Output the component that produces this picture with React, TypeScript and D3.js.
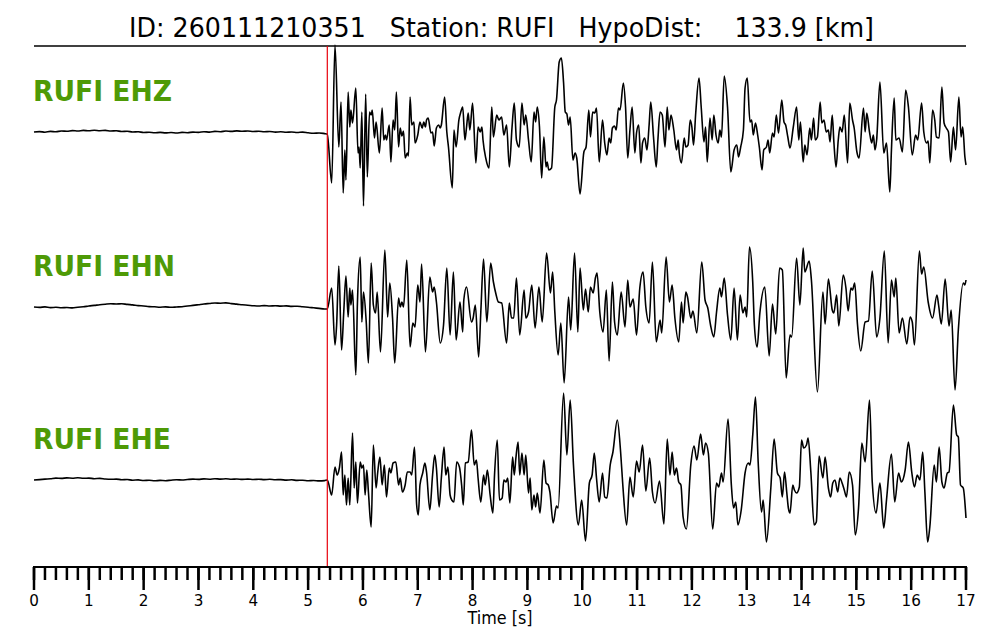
import React from 'react';
import * as d3 from 'd3';

// ---------------- data (time [s], amplitude [counts, arbitrary]) ----------------
const stationName = 'RUFI';
const eventId = '260111210351';
const hypoDistKm = '133.9';
const pickTime = 5.35;
const timeDomain: [number, number] = [0, 17];
const majorTickLabels = [0, 1, 2, 3, 4, 5, 6, 7, 8, 9, 10, 11, 12, 13, 14, 15, 16, 17];

const ehzPre: [number, number][] = [
  [0.0, 1.0], [0.1, 1.4], [0.2, 0.8], [0.3, 1.6], [0.4, 1.2], [0.5, 2.0], [0.6, 1.7], [0.7, 2.4], [0.8, 2.0], [0.9, 2.6],
  [1.0, 2.2], [1.1, 2.8], [1.2, 2.3], [1.3, 2.6], [1.4, 2.0], [1.5, 2.2], [1.6, 1.5], [1.7, 1.7], [1.8, 1.0], [1.9, 1.2],
  [2.0, 0.5], [2.1, 0.8], [2.2, 0.2], [2.3, 0.6], [2.4, 0.1], [2.5, 0.5], [2.6, 0.0], [2.7, 0.6], [2.8, 0.3], [2.9, 0.9],
  [3.0, 0.6], [3.1, 1.3], [3.2, 0.9], [3.3, 1.6], [3.4, 1.3], [3.5, 2.0], [3.6, 1.6], [3.7, 2.1], [3.8, 1.7], [3.9, 2.0],
  [4.0, 1.5], [4.1, 1.8], [4.2, 1.2], [4.3, 1.5], [4.4, 0.9], [4.5, 1.2], [4.6, 0.7], [4.7, 1.0], [4.8, 0.5], [4.9, 0.9],
  [5.0, 0.2], [5.1, -0.3], [5.2, 0.0], [5.3, -0.6],
];
const ehzPost: [number, number][] = [
  [5.35, -1], [5.43, -50], [5.49, 88], [5.56, -14], [5.60, 31], [5.64, -60], [5.67, -17], [5.69, -47], [5.73, 41], [5.76, 6],
  [5.78, 23], [5.81, 10], [5.87, 45], [5.91, -20], [5.93, -14], [5.95, -35], [5.98, 21], [6.01, -73], [6.05, 39], [6.08, -44],
  [6.12, 21], [6.15, 18], [6.17, 23], [6.21, -5], [6.24, 11], [6.30, -20], [6.35, 25], [6.38, -7], [6.41, -2], [6.43, -7],
  [6.48, 8], [6.51, -29], [6.55, 13], [6.58, 3], [6.61, 41], [6.65, -14], [6.68, 5], [6.71, -3], [6.74, 2], [6.77, -25],
  [6.81, -20], [6.83, -23], [6.86, 36], [6.89, 8], [6.93, 11], [6.95, -10], [7.00, -2], [7.04, 11], [7.08, 5], [7.11, 11],
  [7.14, 6], [7.16, 13], [7.19, 15], [7.24, 0], [7.27, 1], [7.30, -13], [7.34, 5], [7.38, 8], [7.41, 5], [7.43, 8],
  [7.49, 36], [7.53, 1], [7.56, -14], [7.63, -55], [7.66, 3], [7.70, -14], [7.75, 13], [7.78, 20], [7.82, 26], [7.86, -7],
  [7.89, 6], [7.92, 20], [7.95, 3], [8.00, 30], [8.06, -30], [8.10, 6], [8.14, 1], [8.17, 6], [8.19, -7], [8.24, -25],
  [8.30, -35], [8.35, 26], [8.38, -4], [8.44, 18], [8.48, 13], [8.53, 16], [8.57, -2], [8.62, 8], [8.67, -34], [8.72, 6],
  [8.76, 30], [8.80, -7], [8.85, -14], [8.90, 30], [8.94, 8], [8.97, 18], [9.02, -7], [9.07, -29], [9.12, 21], [9.15, 11],
  [9.18, 26], [9.22, 6], [9.26, -45], [9.30, -4], [9.34, -34], [9.36, -29], [9.39, -37], [9.44, -35], [9.50, 26], [9.53, 33],
  [9.58, 71], [9.62, 75], [9.66, 50], [9.69, 21], [9.72, 19], [9.75, 8], [9.78, 16], [9.83, -27], [9.87, -20], [9.90, -25],
  [9.96, -61], [10.03, -19], [10.07, -14], [10.12, 23], [10.15, -4], [10.19, 21], [10.23, 20], [10.26, 25], [10.31, -29], [10.37, 13],
  [10.41, -10], [10.45, -22], [10.49, -5], [10.52, -10], [10.55, 5], [10.59, 7], [10.62, 3], [10.66, 25], [10.69, 23], [10.75, 50],
  [10.79, 26], [10.83, -25], [10.87, 3], [10.91, 26], [10.96, -20], [10.99, 0], [11.03, 8], [11.07, -30], [11.10, -10], [11.14, -5],
  [11.18, -17], [11.22, 8], [11.25, 31], [11.30, -4], [11.35, -34], [11.38, -7], [11.42, 21], [11.46, 18], [11.51, -14], [11.55, 26],
  [11.58, 3], [11.62, 18], [11.67, 3], [11.72, -17], [11.75, -7], [11.77, -20], [11.81, -30], [11.86, -5], [11.89, -14], [11.93, -12],
  [11.97, 13], [12.00, 6], [12.03, -12], [12.07, 20], [12.13, 55], [12.17, 26], [12.22, -9], [12.25, 6], [12.28, -29], [12.33, 15],
  [12.37, -7], [12.40, 18], [12.44, -2], [12.48, -10], [12.51, 3], [12.54, -4], [12.59, 57], [12.65, 26], [12.71, -39], [12.77, -17],
  [12.82, -12], [12.85, -24], [12.89, -14], [12.94, 3], [12.97, 45], [13.01, 55], [13.06, 11], [13.09, 13], [13.12, -2], [13.16, 10],
  [13.20, -2], [13.23, -14], [13.28, -37], [13.31, -17], [13.36, -14], [13.39, -7], [13.42, -20], [13.47, 0], [13.50, -4], [13.54, 18],
  [13.58, 0], [13.64, 33], [13.68, 11], [13.71, 8], [13.75, -4], [13.79, -15], [13.85, 6], [13.91, 26], [13.95, -7], [13.98, 11],
  [14.03, -29], [14.06, -12], [14.10, -22], [14.15, 5], [14.18, -7], [14.22, 15], [14.25, -7], [14.29, -4], [14.34, 31], [14.37, 10],
  [14.41, 13], [14.45, 1], [14.49, 3], [14.52, -9], [14.56, 18], [14.59, -9], [14.63, -34], [14.67, -7], [14.70, 6], [14.74, 1],
  [14.78, 18], [14.84, -30], [14.88, 30], [14.93, 13], [14.96, 5], [15.01, -19], [15.05, -25], [15.13, 25], [15.16, 1], [15.19, 20],
  [15.24, 1], [15.28, -10], [15.31, -2], [15.34, -17], [15.37, -7], [15.43, 51], [15.50, -20], [15.55, -10], [15.61, -59], [15.64, -17],
  [15.69, 35], [15.72, -7], [15.78, -5], [15.84, -19], [15.90, 43], [15.95, 26], [16.02, -22], [16.08, -2], [16.12, -7], [16.19, 30],
  [16.23, 1], [16.28, -10], [16.31, -8], [16.34, -30], [16.39, 23], [16.43, 13], [16.46, -4], [16.51, -5], [16.56, 46], [16.60, 10],
  [16.64, 5], [16.68, 1], [16.72, -29], [16.77, 6], [16.81, -17], [16.87, 36], [16.91, -4], [16.94, 6], [16.98, -24], [17.00, -32],
];

const ehnPre: [number, number][] = [
  [0.0, 1.0], [0.1, 0.6], [0.2, 1.1], [0.3, 0.4], [0.4, 0.7], [0.5, 0.2], [0.6, 0.5], [0.7, 0.1], [0.8, 0.8], [0.9, 1.2],
  [1.0, 2.0], [1.1, 2.6], [1.2, 3.3], [1.3, 3.8], [1.4, 4.2], [1.5, 4.0], [1.6, 4.3], [1.7, 3.6], [1.8, 3.1], [1.9, 2.4],
  [2.0, 2.0], [2.1, 1.4], [2.2, 1.2], [2.3, 0.8], [2.4, 1.1], [2.5, 0.7], [2.6, 1.0], [2.7, 1.3], [2.8, 2.0], [2.9, 2.6],
  [3.0, 3.3], [3.1, 4.0], [3.2, 4.5], [3.3, 5.0], [3.4, 4.8], [3.5, 5.1], [3.6, 4.4], [3.7, 3.9], [3.8, 3.2], [3.9, 2.8],
  [4.0, 2.3], [4.1, 2.0], [4.2, 2.4], [4.3, 2.0], [4.4, 2.3], [4.5, 1.9], [4.6, 2.1], [4.7, 1.6], [4.8, 1.8], [4.9, 1.2],
  [5.0, 0.8], [5.1, 0.2], [5.2, -0.4], [5.3, -1.0],
];
const ehnPost: [number, number][] = [
  [5.35, -1], [5.43, 20], [5.49, -37], [5.52, -17], [5.56, 42], [5.61, -42], [5.65, -4], [5.69, 32], [5.73, -9], [5.76, 20],
  [5.78, 3], [5.81, 18], [5.87, -67], [5.90, 6], [5.95, 51], [5.98, -14], [6.01, 16], [6.06, -14], [6.10, -55], [6.15, 45],
  [6.19, 3], [6.23, -5], [6.26, 16], [6.32, -44], [6.40, 58], [6.45, -9], [6.49, 25], [6.54, -10], [6.58, -55], [6.65, 10],
  [6.68, 1], [6.71, 6], [6.74, 1], [6.80, 48], [6.86, -39], [6.91, -15], [6.95, -19], [7.00, 23], [7.04, 6], [7.07, 44],
  [7.14, -44], [7.22, 31], [7.27, 16], [7.30, 21], [7.34, 6], [7.41, -35], [7.47, -17], [7.53, 40], [7.59, -27], [7.65, 36],
  [7.70, -32], [7.77, 6], [7.82, -24], [7.84, 8], [7.89, 21], [7.98, -14], [8.01, -10], [8.05, 3], [8.11, -49], [8.15, -4],
  [8.20, 49], [8.26, -14], [8.33, 45], [8.38, 26], [8.43, 13], [8.47, 6], [8.53, 5], [8.62, -35], [8.67, 5], [8.71, -10],
  [8.75, -10], [8.80, 30], [8.86, -27], [8.94, 18], [8.97, -10], [9.02, -4], [9.08, 23], [9.14, -20], [9.21, 21], [9.27, -14],
  [9.35, 55], [9.42, 15], [9.46, 36], [9.50, -4], [9.56, -47], [9.61, -15], [9.67, -75], [9.75, 11], [9.79, -22], [9.86, 55],
  [9.92, -24], [9.96, 40], [10.02, -2], [10.06, 19], [10.11, -4], [10.15, 21], [10.20, 15], [10.24, 30], [10.27, 35], [10.32, -4],
  [10.38, -24], [10.44, 18], [10.49, -53], [10.55, 26], [10.59, -14], [10.64, -27], [10.71, 16], [10.78, -19], [10.83, 28], [10.87, 1],
  [10.93, 9], [10.99, -27], [11.05, 20], [11.11, 36], [11.16, 1], [11.22, -15], [11.28, 46], [11.35, -34], [11.42, -12], [11.45, -25],
  [11.53, 51], [11.59, 6], [11.64, 23], [11.69, -10], [11.76, -34], [11.81, 6], [11.84, -15], [11.89, 16], [11.92, 11], [11.98, -10],
  [12.02, -3], [12.09, -25], [12.18, 46], [12.24, 8], [12.29, 0], [12.34, -17], [12.40, -29], [12.45, -4], [12.51, 20], [12.54, 11],
  [12.59, 30], [12.65, -7], [12.71, -32], [12.77, 20], [12.83, -32], [12.88, 13], [12.93, -5], [12.97, 1], [13.00, -9], [13.05, 61],
  [13.11, 26], [13.14, -17], [13.19, -39], [13.24, -5], [13.33, 21], [13.41, -48], [13.47, 4], [13.53, -26], [13.60, 40], [13.65, 38],
  [13.72, -70], [13.79, -27], [13.82, -29], [13.91, 50], [13.97, 3], [14.03, 60], [14.06, 36], [14.14, 47], [14.18, 28], [14.29, -84],
  [14.39, 16], [14.43, -16], [14.49, 29], [14.56, -2], [14.59, -5], [14.64, 13], [14.68, -18], [14.76, 33], [14.81, 20], [14.85, -3],
  [14.90, 20], [14.93, 18], [14.97, 25], [15.02, -16], [15.08, -43], [15.16, -14], [15.22, -13], [15.29, 37], [15.37, -29], [15.43, -10],
  [15.51, 57], [15.58, -35], [15.64, 28], [15.69, 11], [15.72, 30], [15.78, -25], [15.84, -10], [15.92, -36], [15.98, -9], [16.02, -14],
  [16.06, -37], [16.15, 57], [16.19, 34], [16.23, 41], [16.31, 6], [16.39, -10], [16.47, 13], [16.50, 3], [16.55, -16], [16.62, 29],
  [16.69, -18], [16.73, -2], [16.80, -82], [16.86, -22], [16.95, 25], [16.98, 23], [17.00, 28],
];

const ehePre: [number, number][] = [
  [0.0, 0.0], [0.1, 0.4], [0.2, 0.9], [0.3, 1.3], [0.4, 1.9], [0.5, 1.6], [0.6, 2.1], [0.7, 1.8], [0.8, 2.2], [0.9, 1.7],
  [1.0, 1.9], [1.1, 1.3], [1.2, 1.6], [1.3, 1.0], [1.4, 0.7], [1.5, 0.9], [1.6, 0.3], [1.7, 0.5], [1.8, -0.2], [1.9, 0.1],
  [2.0, -0.5], [2.1, -0.3], [2.2, -0.8], [2.3, -0.4], [2.4, -0.7], [2.5, -0.2], [2.6, 0.2], [2.7, 0.0], [2.8, 0.5], [2.9, 0.9],
  [3.0, 0.6], [3.1, 1.1], [3.2, 0.8], [3.3, 1.3], [3.4, 0.9], [3.5, 1.2], [3.6, 0.7], [3.7, 1.0], [3.8, 0.6], [3.9, 0.9],
  [4.0, 0.5], [4.1, 0.8], [4.2, 0.4], [4.3, 0.7], [4.4, 0.3], [4.5, 0.4], [4.6, -0.1], [4.7, 0.2], [4.8, -0.4], [4.9, -0.2],
  [5.0, -0.7], [5.1, -0.5], [5.2, -0.9], [5.3, -0.6],
];
const ehePost: [number, number][] = [
  [5.35, 0], [5.43, -15], [5.49, 13], [5.53, 5], [5.57, 12], [5.61, 28], [5.64, -15], [5.67, 5], [5.70, -25], [5.73, 2],
  [5.76, -25], [5.81, 47], [5.84, -8], [5.87, 18], [5.90, -23], [5.95, 18], [5.98, 12], [6.01, 15], [6.04, -15], [6.07, 10],
  [6.10, -12], [6.15, -47], [6.19, 35], [6.24, -8], [6.27, 8], [6.31, 23], [6.35, -5], [6.39, 15], [6.43, -17], [6.48, 12],
  [6.51, 7], [6.55, 17], [6.60, 18], [6.65, -5], [6.68, 2], [6.72, -12], [6.77, -5], [6.81, 8], [6.86, 8], [6.89, 5],
  [6.94, 33], [6.98, -25], [7.01, -35], [7.04, -5], [7.09, 7], [7.13, 17], [7.16, 8], [7.22, -30], [7.27, 5], [7.31, 25],
  [7.34, 12], [7.39, -27], [7.43, 2], [7.48, 33], [7.51, 5], [7.55, 13], [7.59, -15], [7.62, -20], [7.66, -22], [7.71, 18],
  [7.76, 13], [7.80, -5], [7.83, -25], [7.87, 17], [7.92, 18], [7.98, 50], [8.03, 15], [8.07, 20], [8.10, 2], [8.15, -22],
  [8.20, 5], [8.23, -5], [8.27, 10], [8.32, -15], [8.37, -33], [8.40, 5], [8.45, 40], [8.49, -20], [8.54, -18], [8.57, 0],
  [8.61, -2], [8.64, 2], [8.68, -23], [8.73, 23], [8.76, 5], [8.79, 22], [8.83, 38], [8.86, 5], [8.90, 27], [8.94, 5],
  [8.97, 25], [9.02, -13], [9.05, 2], [9.08, -30], [9.12, -15], [9.15, -27], [9.18, -13], [9.23, -33], [9.30, 20], [9.34, -3],
  [9.38, -5], [9.41, -12], [9.47, -43], [9.53, -26], [9.56, -28], [9.66, 87], [9.72, 25], [9.78, 80], [9.84, 15], [9.93, -45],
  [9.99, -20], [10.06, -61], [10.13, -3], [10.18, 5], [10.22, 27], [10.26, 2], [10.31, -22], [10.37, 7], [10.41, -17], [10.45, -18],
  [10.51, 15], [10.56, 28], [10.64, 60], [10.70, 28], [10.74, -5], [10.81, -45], [10.87, 3], [10.93, -17], [10.99, 19], [11.04, 8],
  [11.10, 35], [11.16, -11], [11.23, 22], [11.28, -12], [11.33, -23], [11.41, -1], [11.49, -44], [11.55, 41], [11.60, 5], [11.64, 28],
  [11.68, 5], [11.72, 12], [11.76, -2], [11.80, -5], [11.84, -37], [11.90, -49], [11.98, 15], [12.04, 34], [12.09, 20], [12.16, 46],
  [12.21, 25], [12.25, 37], [12.30, 27], [12.38, -49], [12.45, -3], [12.49, -7], [12.54, 7], [12.57, -2], [12.66, 61], [12.72, -5],
  [12.76, -28], [12.80, -22], [12.84, -45], [12.90, -30], [12.97, 7], [13.03, 17], [13.06, 15], [13.11, 45], [13.16, 83], [13.21, 17],
  [13.27, -32], [13.30, -20], [13.36, -62], [13.44, -8], [13.50, 41], [13.56, 7], [13.61, 2], [13.65, -17], [13.69, 8], [13.73, -12],
  [13.76, -28], [13.79, -33], [13.84, -5], [13.87, -10], [13.91, -13], [13.96, -7], [14.00, 40], [14.04, 32], [14.09, 35], [14.12, 42],
  [14.17, 8], [14.23, -45], [14.27, -42], [14.32, 24], [14.39, 2], [14.43, 23], [14.49, -8], [14.53, -17], [14.57, -3], [14.61, 0],
  [14.66, -12], [14.70, 2], [14.74, -3], [14.78, -10], [14.82, -17], [14.87, 8], [14.93, -5], [14.98, -55], [15.04, -28], [15.10, 37],
  [15.16, 18], [15.24, 80], [15.29, -2], [15.36, -33], [15.43, -3], [15.50, -48], [15.55, -20], [15.64, 26], [15.70, -22], [15.77, 7],
  [15.82, -2], [15.89, 10], [15.95, 38], [16.01, 8], [16.06, -7], [16.11, 5], [16.16, 0], [16.21, 28], [16.25, -12], [16.30, -62],
  [16.34, -47], [16.42, 15], [16.46, -2], [16.51, 33], [16.56, -2], [16.60, -8], [16.66, 7], [16.69, 8], [16.77, 75], [16.83, 45],
  [16.86, 43], [16.90, -5], [16.95, -8], [17.00, -38],
];

const channels = ['EHZ', 'EHN', 'EHE'];
const traces = [ehzPre.concat(ehzPost), ehnPre.concat(ehnPost), ehePre.concat(ehePost)];

// ---------------- layout ----------------
const W = 1000;
const H = 640;
const left = 34;
const right = 966;
const topLine = 46;
const axisY = 567;
const baselines = [133, 308, 480];
const labelBaselines = [101, 276, 449];
const ampHalf = 100;
const textStretch = 1.08;
const font = 'DejaVu Sans, Verdana, sans-serif';
const green = '#4e9a06';

function StretchText(props: { x: number; y: number; size: number; weight?: string | number; fill?: string; anchor?: string; children: React.ReactNode }) {
  const { x, y, size, weight, fill, anchor, children } = props;
  return (
    <text
      transform={`translate(${x},${y}) scale(1,${textStretch})`}
      fontFamily={font}
      fontSize={size}
      fontWeight={weight ?? 'normal'}
      fill={fill ?? '#000'}
      textAnchor={anchor ?? 'start'}
      style={{ whiteSpace: 'pre' }}
    >
      {children}
    </text>
  );
}

export default function App() {
  const x = d3.scaleLinear().domain(timeDomain).range([left, right]);
  const minorTicks = x.ticks(85);

  const title = `ID: ${eventId}   Station: ${stationName}   HypoDist:    ${hypoDistKm} [km]`;

  return (
    <div style={{ position: 'absolute', left: 0, top: 0, width: W, height: H, background: '#fff' }}>
      <svg width={W} height={H} viewBox={`0 0 ${W} ${H}`} style={{ display: 'block' }}>
        <rect x={0} y={0} width={W} height={H} fill="#fff" />
        <StretchText x={(left + right) / 2 + 1.5} y={37} size={25.3} anchor="middle">{title}</StretchText>
        <line x1={left} x2={right} y1={topLine} y2={topLine} stroke="#000" strokeWidth={1.5} />

        {traces.map((data, i) => {
          const y = d3.scaleLinear().domain([-ampHalf, ampHalf]).range([baselines[i] + ampHalf, baselines[i] - ampHalf]);
          const line = d3
            .line<[number, number]>()
            .x((d) => x(d[0]))
            .y((d) => y(d[1]))
            .curve(d3.curveMonotoneX);
          return (
            <g key={channels[i]}>
              <path d={line(data) ?? ''} fill="none" stroke="#000" strokeWidth={1.6} strokeLinejoin="round" />
              <StretchText x={left - 1} y={labelBaselines[i]} size={26.6} weight="bold" fill={green}>
                {`${stationName} ${channels[i]}`}
              </StretchText>
            </g>
          );
        })}

        <line x1={x(pickTime)} x2={x(pickTime)} y1={topLine} y2={axisY} stroke="#e8000b" strokeWidth={1.2} />

        <g>
          <line x1={left - 1} x2={right + 1} y1={axisY} y2={axisY} stroke="#000" strokeWidth={2} />
          {minorTicks.map((t) => (
            <line key={`m${t}`} x1={x(t)} x2={x(t)} y1={axisY} y2={axisY + 13} stroke="#000" strokeWidth={2.5} />
          ))}
          {majorTickLabels.map((t) => (
            <g key={`M${t}`}>
              <line x1={x(t)} x2={x(t)} y1={axisY} y2={axisY + 23} stroke="#000" strokeWidth={2.5} />
              <StretchText x={x(t)} y={606} size={15.2} anchor="middle">{String(t)}</StretchText>
            </g>
          ))}
          <StretchText x={(left + right) / 2} y={624} size={16} anchor="middle">Time [s]</StretchText>
        </g>
      </svg>
    </div>
  );
}
